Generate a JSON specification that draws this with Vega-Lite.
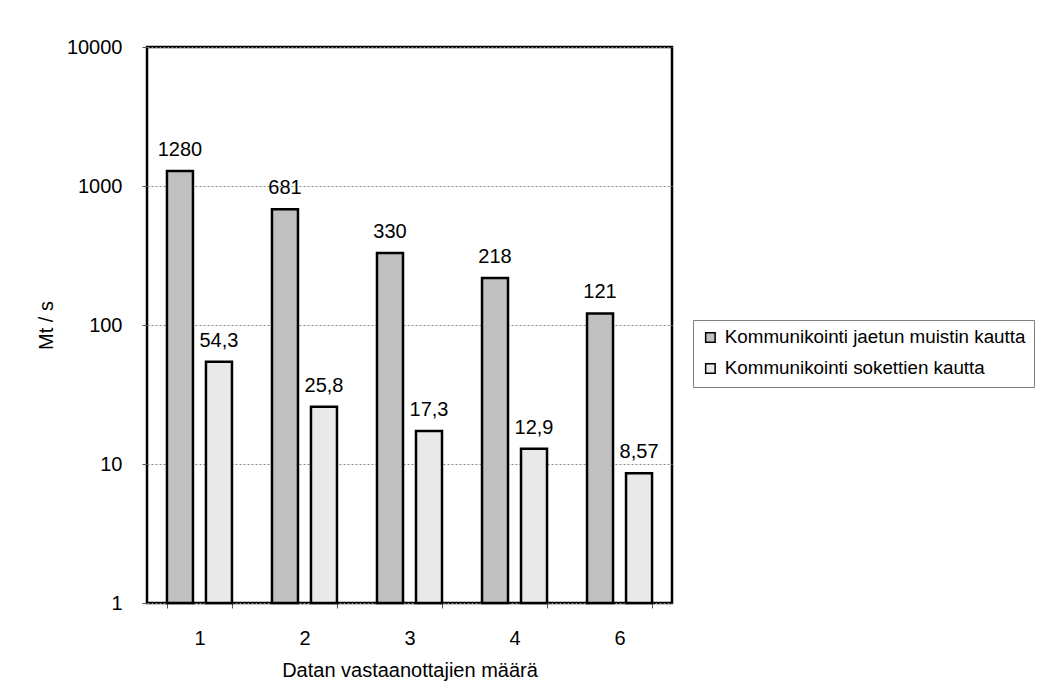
{
  "$schema": "https://vega.github.io/schema/vega-lite/v6.json",
  "width": 525,
  "height": 556,
  "autosize": "none",
  "padding": {"left": 147, "top": 47, "right": 373, "bottom": 95},
  "background": "white",
  "data": {
    "values": [
      {"vastaanottajat": "1", "sarja": "Kommunikointi jaetun muistin kautta", "arvo": 1280, "teksti": "1280"},
      {"vastaanottajat": "1", "sarja": "Kommunikointi sokettien kautta", "arvo": 54.3, "teksti": "54,3"},
      {"vastaanottajat": "2", "sarja": "Kommunikointi jaetun muistin kautta", "arvo": 681, "teksti": "681"},
      {"vastaanottajat": "2", "sarja": "Kommunikointi sokettien kautta", "arvo": 25.8, "teksti": "25,8"},
      {"vastaanottajat": "3", "sarja": "Kommunikointi jaetun muistin kautta", "arvo": 330, "teksti": "330"},
      {"vastaanottajat": "3", "sarja": "Kommunikointi sokettien kautta", "arvo": 17.3, "teksti": "17,3"},
      {"vastaanottajat": "4", "sarja": "Kommunikointi jaetun muistin kautta", "arvo": 218, "teksti": "218"},
      {"vastaanottajat": "4", "sarja": "Kommunikointi sokettien kautta", "arvo": 12.9, "teksti": "12,9"},
      {"vastaanottajat": "6", "sarja": "Kommunikointi jaetun muistin kautta", "arvo": 121, "teksti": "121"},
      {"vastaanottajat": "6", "sarja": "Kommunikointi sokettien kautta", "arvo": 8.57, "teksti": "8,57"}
    ]
  },
  "encoding": {
    "x": {
      "field": "vastaanottajat",
      "type": "ordinal",
      "sort": null,
      "scale": {"paddingInner": 0.381, "paddingOuter": 0.19},
      "axis": {
        "title": "Datan vastaanottajien määrä",
        "labelAngle": 0,
        "tickBand": "extent",
        "tickSize": 5,
        "tickColor": "#555555",
        "domain": false,
        "labelFontSize": 20,
        "titleFontSize": 20,
        "labelPadding": 20,
        "titlePadding": 12
      }
    },
    "xOffset": {
      "field": "sarja",
      "type": "nominal",
      "scale": {"paddingInner": 0.3333, "paddingOuter": 0}
    },
    "y": {
      "field": "arvo",
      "type": "quantitative",
      "scale": {"type": "log", "domain": [1, 10000], "nice": false},
      "axis": {
        "title": "Mt / s",
        "values": [1, 10, 100, 1000, 10000],
        "format": "d",
        "tickSize": 5,
        "tickColor": "#555555",
        "domain": false,
        "labelFontSize": 20,
        "titleFontSize": 20,
        "labelPadding": 20,
        "titlePadding": 10,
        "grid": true,
        "gridColor": "#888888",
        "gridDash": [2, 2],
        "gridWidth": 1
      }
    }
  },
  "layer": [
    {
      "mark": {"type": "bar", "stroke": "black", "strokeWidth": 2.5},
      "encoding": {
        "y2": {"datum": 1},
        "color": {
          "field": "sarja",
          "type": "nominal",
          "scale": {"range": ["#c0c0c0", "#e9e9e9"]},
          "legend": {
            "title": null,
            "orient": "none",
            "legendX": 546,
            "legendY": 273,
            "symbolType": "square",
            "symbolSize": 90,
            "symbolStrokeColor": "black",
            "symbolStrokeWidth": 1.5,
            "labelFontSize": 18.8,
            "labelColor": "black",
            "labelOffset": 5,
            "rowPadding": 11,
            "padding": 8,
            "strokeColor": "#808080",
            "labelLimit": 400
          }
        }
      }
    },
    {
      "mark": {"type": "text", "dy": -15, "baseline": "alphabetic", "fontSize": 20, "color": "black"},
      "encoding": {"text": {"field": "teksti"}}
    }
  ],
  "config": {
    "font": "Liberation Sans",
    "view": {"stroke": "black", "strokeWidth": 2.5},
    "axis": {
      "labelFont": "Liberation Sans",
      "titleFont": "Liberation Sans",
      "titleFontWeight": "normal",
      "labelColor": "black",
      "titleColor": "black"
    },
    "legend": {"labelFont": "Liberation Sans"}
  }
}
